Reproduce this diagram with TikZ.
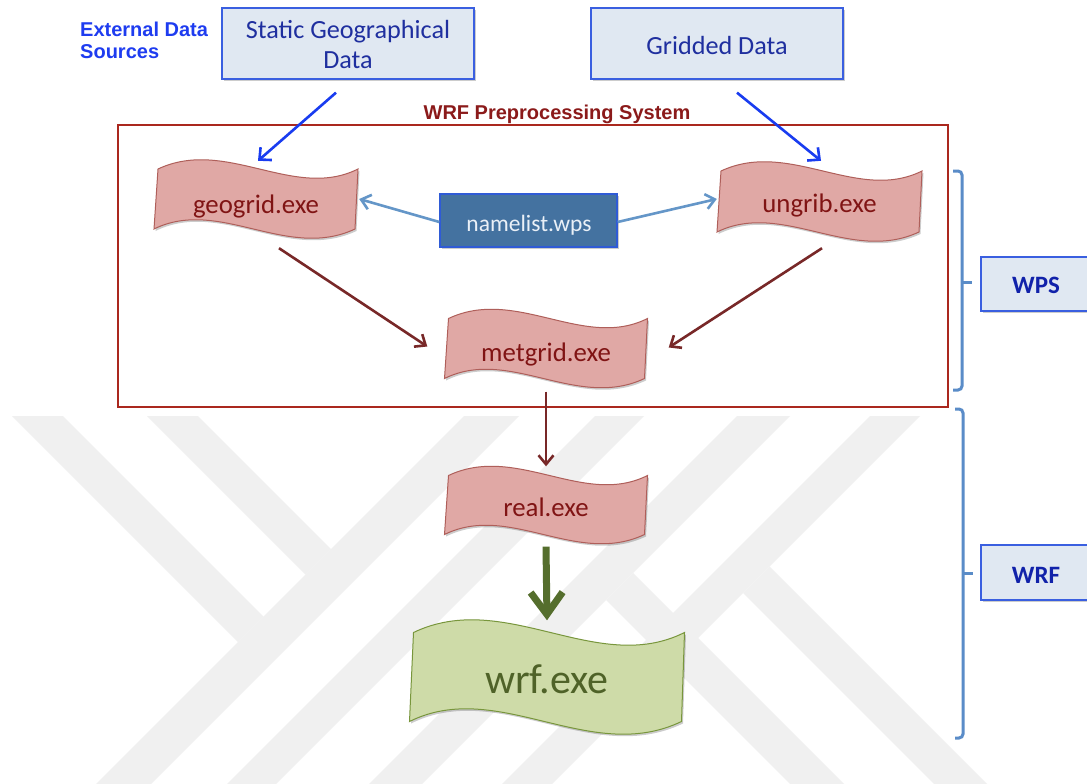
\documentclass[tikz,border=0pt]{standalone}
\usepackage{fontspec}
\setmainfont{Carlito}
\newfontfamily\arialfont{Liberation Sans}
\usetikzlibrary{arrows.meta,calc,shadows}
\definecolor{wm}{RGB}{240,240,240}
\definecolor{srcfill}{RGB}{224,232,242}
\definecolor{srcdraw}{RGB}{58,95,224}
\definecolor{srctext}{RGB}{31,47,159}
\definecolor{boldblue}{RGB}{17,34,170}
\definecolor{extblue}{RGB}{30,60,240}
\definecolor{nlfill}{RGB}{68,114,160}
\definecolor{nldraw}{RGB}{47,91,214}
\definecolor{nltext}{RGB}{234,240,247}
\definecolor{pinkfill}{RGB}{224,168,165}
\definecolor{pinkdraw}{RGB}{175,95,90}
\definecolor{pinktext}{RGB}{128,20,20}
\definecolor{greenfill}{RGB}{206,219,168}
\definecolor{greendraw}{RGB}{120,150,60}
\definecolor{greentext}{RGB}{79,98,40}
\definecolor{arrblue}{RGB}{25,60,240}
\definecolor{arrsteel}{RGB}{100,150,200}
\definecolor{arrred}{RGB}{120,40,40}
\definecolor{arrgreen}{RGB}{85,110,45}
\definecolor{brkcol}{RGB}{90,140,200}
\definecolor{framecol}{RGB}{170,40,30}
\definecolor{titlered}{RGB}{139,26,26}
\newcommand{\wavebox}[9]{%
  \pgfmathsetmacro\wvL{#2-#4/2}\pgfmathsetmacro\wvR{#2+#4/2}%
  \pgfmathsetmacro\wvT{#3-#5/2}\pgfmathsetmacro\wvB{#3+#5/2}%
  \pgfmathsetmacro\wvD{#4/3}%
  \draw[#7 shape] (\wvL+4,\wvT) .. controls (\wvL+4+\wvD,\wvT-#6) and (\wvL+4+2*\wvD,\wvT+#6) .. (\wvR,\wvT)
     -- (\wvR-3,\wvB) .. controls (\wvR-3-\wvD,\wvB+#6) and (\wvR-3-2*\wvD,\wvB-#6) .. (\wvL,\wvB) -- cycle;
  \node[inner sep=0pt, minimum width=#4, minimum height=#5] (#1) at (#2,#3) {};
  \node[#7 text, anchor=base, inner sep=0pt] (#1-t) at (#2,#8) {#9};
}
\tikzset{
  shd/.style={drop shadow={shadow xshift=1.5pt, shadow yshift=-2pt, opacity=0.2, fill=black}},
  pink shape/.style={fill=pinkfill, draw=pinkdraw, line width=1pt, shd},
  pink text/.style={text=pinktext, font=\fontsize{26.8}{31}\selectfont},
  green shape/.style={fill=greenfill, draw=greendraw, line width=1pt, shd},
  green text/.style={text=greentext, font=\fontsize{42}{48}\selectfont},
  srcbox/.style={fill=srcfill, draw=srcdraw, line width=1.3pt, inner sep=0pt, shd},
  srctext/.style={text=srctext, font=\fontsize{26.2}{30}\selectfont, inner sep=0pt, anchor=base},
  labtext/.style={text=boldblue, font=\fontsize{25}{30}\selectfont\bfseries, inner sep=0pt, anchor=base},
  nlbox/.style={fill=nlfill, draw=nldraw, line width=1.3pt, inner sep=0pt, shd},
  brk/.style={draw=brkcol, line width=3pt, rounded corners=4pt},
  arrb/.style={draw=arrblue, line width=2.6pt, -{Straight Barb[length=9pt,width=17pt]}},
  arrs/.style={draw=arrsteel, line width=2.6pt, -{Straight Barb[length=9pt,width=15pt]}},
  arrr/.style={draw=arrred, line width=2.6pt, -{Straight Barb[length=9pt,width=15pt]}},
  arrg/.style={draw=arrgreen, line width=7pt, -{Straight Barb[length=22pt,width=32pt]}},
}
\begin{document}
\begin{tikzpicture}[x=1pt,y=-1pt]
\useasboundingbox (0,0) rectangle (1087,784);
\clip (0,0) rectangle (1087,784);
\fill[white] (0,0) rectangle (1087,784);
% watermark
\begin{scope}
\clip (0,416) rectangle (1087,784);
\fill[wm] (464,416) -- (519,416) -- (151,784) -- (96,784) -- cycle;
\fill[wm] (595,416) -- (644,416) -- (276,784) -- (227,784) -- cycle;
\fill[wm] (737,416) -- (790,416) -- (422,784) -- (369,784) -- cycle;
\fill[wm] (870,416) -- (920,416) -- (552,784) -- (502,784) -- cycle;
\fill[wm] (12,416) -- (63,416) -- (263.5,616.5) -- (238,642) -- cycle;
\fill[wm] (147,416) -- (198,416) -- (331,549) -- (305.5,574.5) -- cycle;
\fill[wm] (769.5,566.5) -- (987,784) -- (934,784) -- (743,593) -- cycle;
\fill[wm] (633,573) -- (844,784) -- (790,784) -- (606,600) -- cycle;
\end{scope}
% external sources
\node[anchor=base west, inner sep=0pt, text=extblue, font=\arialfont\bfseries\fontsize{20}{24}\selectfont] (ext1) at (80,37) {External Data};
\node[anchor=base west, inner sep=0pt, text=extblue, font=\arialfont\bfseries\fontsize{20}{24}\selectfont] (ext2) at (80,59) {Sources};
\node[srcbox, minimum width=252pt, minimum height=71pt] (sgd) at (348,43.5) {};
\node[srctext] (sgd-t1) at (348,39) {Static Geographical};
\node[srctext] (sgd-t2) at (348,69) {Data};
\node[srcbox, minimum width=252pt, minimum height=71pt] (gd) at (717,43.5) {};
\node[srctext] (gd-t) at (717,54.5) {Gridded Data};
% frame
\node[draw=framecol, line width=1.3pt, minimum width=830pt, minimum height=282pt, inner sep=0pt] (frame) at (533,266) {};
\node[anchor=base, inner sep=0pt, text=titlered, font=\arialfont\bfseries\fontsize{20}{24}\selectfont] (frame-t) at (557,119) {WRF Preprocessing System};
% wave boxes
\wavebox{geo}{256}{199}{204}{60}{32}{pink}{213}{geogrid.exe}
\wavebox{ung}{819.5}{201.5}{205}{61}{32}{pink}{212}{ungrib.exe}
\wavebox{met}{546}{348.5}{203}{60}{32}{pink}{361}{metgrid.exe}
\wavebox{real}{546}{505}{203}{59}{32}{pink}{516}{real.exe}
\wavebox{wrf}{547}{677}{275}{89}{44}{green}{693}{wrf.exe}
% namelist
\node[nlbox, minimum width=177pt, minimum height=53pt] (nl) at (528.5,220.5) {};
\node[inner sep=0pt, anchor=base, text=nltext, font=\fontsize{23.5}{28}\selectfont] (nl-t) at (529,231) {namelist.wps};
% right labels
\node[srcbox, minimum width=120pt, minimum height=54pt] (wps) at (1041,284) {};
\node[labtext] (wps-t) at (1036,293) {WPS};
\node[srcbox, minimum width=120pt, minimum height=55pt] (wrfl) at (1041,572.5) {};
\node[labtext] (wrfl-t) at (1036,583) {WRF};
% brackets
\draw[brk] (953,171) -- (962,171) -- (962,390) -- (953,390);
\draw[draw=brkcol, line width=3pt] (962,282) -- (972,282);
\draw[brk] (955,409) -- (963,409) -- (963,738) -- (955,738);
\draw[draw=brkcol, line width=3pt] (963,573) -- (973,573);
% arrows
\draw[arrb] ($(sgd.south)+(-12,13)$) -- ($(geo.north)+(2,-8)$);
\draw[arrb] ($(gd.south)+(20,13)$) -- ($(ung.north)+(1.5,-10)$);
\draw[arrs] ($(nl.west)+(0,1.5)$) -- ($(geo.east)+(1,0)$);
\draw[arrs] ($(nl.east)+(0,1.5)$) -- ($(ung.west)+(0,-2.5)$);
\draw[arrr] ($(geo.south)+(23,19)$) -- ($(met.west)+(-17,-2)$);
\draw[arrr] ($(ung.south)+(2.5,16)$) -- ($(met.east)+(21,-1)$);
\draw[arrr] ($(met.south)+(0,13)$) -- ($(real.north)+(0,-9)$);
\draw[arrg] ($(real.south)+(0,12)$) -- ($(wrf.north)+(0,-12)$);
\end{tikzpicture}
\end{document}
